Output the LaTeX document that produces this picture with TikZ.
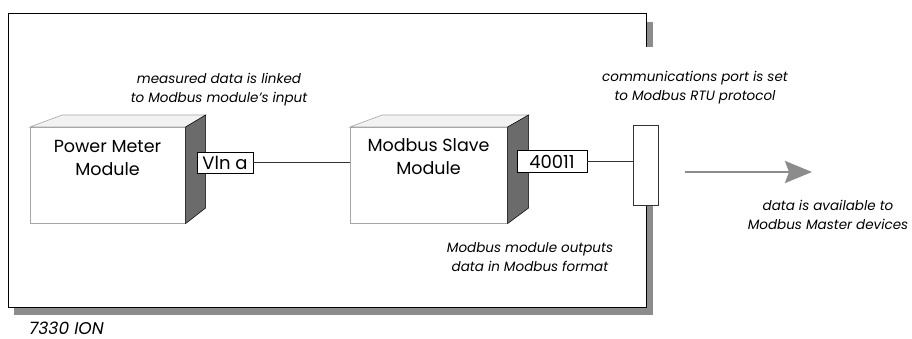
\documentclass[tikz,border=0pt]{standalone}
\usepackage{fontspec}
\setmainfont{Poppins}
\usetikzlibrary{arrows.meta}
\definecolor{shadowgray}{gray}{0.55}
\definecolor{darkface}{gray}{0.42}
\definecolor{topface}{gray}{0.95}
\begin{document}
\begin{tikzpicture}[x=1pt,y=-1pt,
  face/.style={draw=gray!70, line width=0.6pt, fill=white, rectangle, inner sep=0pt, anchor=north west},
  modtext/.style={font=\fontsize{17.5}{23}\selectfont, align=center, inner sep=0pt},
  tag/.style={draw=black, line width=0.5pt, fill=white, font=\fontsize{18}{20}\selectfont, inner sep=1pt},
  note/.style={font=\itshape\fontsize{13.5}{19}\selectfont, align=center, inner sep=0pt},
  wire/.style={line width=0.5pt, draw=black!80}]
\useasboundingbox (0,0) rectangle (912,339);
% outer enclosure with shadow
\fill[shadowgray] (14,307) rectangle (653,315);
\fill[shadowgray] (646,22) rectangle (653,47);
\fill[shadowgray] (646,205) rectangle (653,315);
\draw[line width=0.6pt] (646,47) -- (646,13) -- (8,13) -- (8,307) -- (646,307) -- (646,205);
% Power Meter module cube
\node[face, minimum width=155pt, minimum height=96pt] (pm) at (30,127) {};
\filldraw[fill=topface, draw=gray!70, line width=0.6pt] (pm.north west) -- ++(32,-12) -- ([shift={(20,-12)}]pm.north east) -- (pm.north east) -- cycle;
\filldraw[fill=darkface, draw=black, line width=0.5pt] (pm.north east) -- ++(20,-12) -- ++(0,93) -- (pm.south east) -- cycle;
\node[modtext] (pmt) at (107.5,158) {Power Meter\\Module};
% Modbus Slave module cube
\node[face, minimum width=157pt, minimum height=96pt] (ms) at (350,127) {};
\filldraw[fill=topface, draw=gray!70, line width=0.6pt] (ms.north west) -- ++(32,-12) -- ([shift={(21,-12)}]ms.north east) -- (ms.north east) -- cycle;
\filldraw[fill=darkface, draw=black, line width=0.5pt] (ms.north east) -- ++(21,-12) -- ++(0,93) -- (ms.south east) -- cycle;
\node[modtext] (mst) at (428.5,157) {Modbus Slave\\Module};
% tags
\node[tag, minimum width=56pt, minimum height=21pt] (vln) at (225,162.5) {Vln a};
\node[tag, minimum width=70pt, minimum height=22pt] (reg) at (552,161.5) {40011};
% communications port
\node[draw=black!80, line width=0.5pt, fill=white, minimum width=25pt, minimum height=80pt, inner sep=0pt] (port) at (645.5,165) {};
% wires
\draw[wire] (vln.east) -- (vln.east -| ms.west);
\draw[wire] (reg.east) -- (reg.east -| port.west);
% output arrow
\coordinate (a1) at (685,172);
\coordinate (a2) at (812,172);
\draw[draw=shadowgray, line width=2.5pt, -{Stealth[width=22pt,length=27pt,inset=4pt,fill=shadowgray]}] (a1) -- (a2);
% notes
\node[note] (n1) at (219,90) {measured data is linked\\to Modbus module's input};
\node[note] (n2) at (695,88) {communications port is set\\to Modbus RTU protocol};
\node[note] (n3) at (530,257) {Modbus module outputs\\data in Modbus format};
\node[note] (n4) at (828,215) {data is available to\\Modbus Master devices};
\node[font=\itshape\fontsize{17}{19}\selectfont, anchor=base west, inner sep=0pt] (lbl) at (29,334) {7330 ION};
\end{tikzpicture}
\end{document}
